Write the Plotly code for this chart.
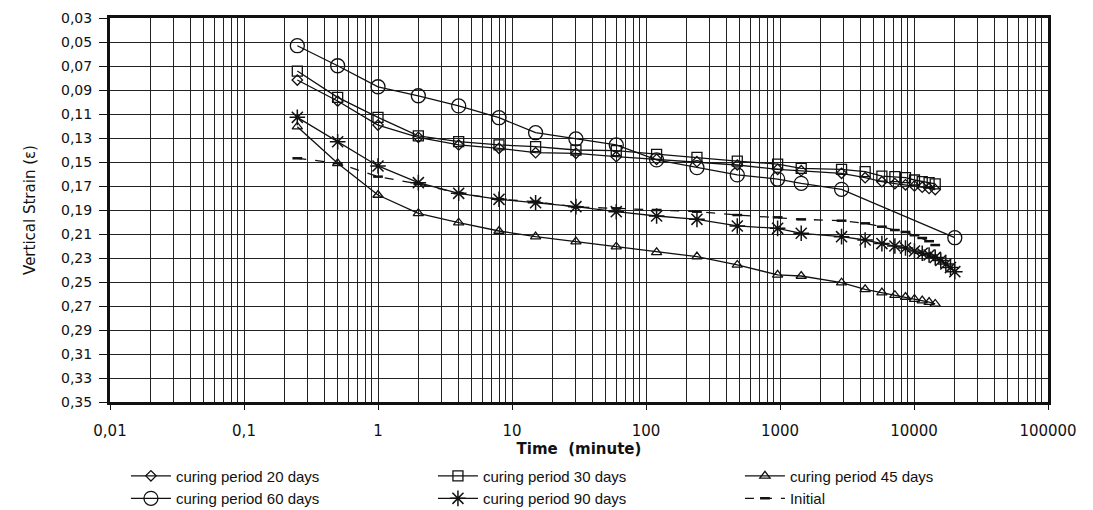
import plotly.graph_objects as go

# Time (minute)
t_common = [0.25, 0.5, 1, 2, 4, 8, 15, 30, 60, 120, 240, 480, 960, 1440, 2880,
            4320, 5760, 7200, 8640, 10080, 11520, 12960, 14400]
t_60 = [0.25, 0.5, 1, 2, 4, 8, 15, 30, 60, 120, 240, 480, 960, 1440, 2880, 20160]
t_90 = t_common + [15840, 17280, 18720, 20160]

cp20 = [0.0817, 0.0992, 0.1192, 0.1294, 0.1358, 0.1386, 0.1422, 0.1428, 0.1456, 0.1478,
        0.1497, 0.1525, 0.1561, 0.1572, 0.1594, 0.1631, 0.1664, 0.1680, 0.1690, 0.1700,
        0.1710, 0.1720, 0.1730]
cp30 = [0.0742, 0.0961, 0.1128, 0.1283, 0.1331, 0.1358, 0.1372, 0.1400, 0.1406, 0.1436,
        0.1461, 0.1492, 0.1517, 0.1553, 0.1561, 0.1581, 0.1617, 0.1622, 0.1631, 0.1650,
        0.1664, 0.1672, 0.1683]
cp45 = [0.1206, 0.1511, 0.1775, 0.1928, 0.2006, 0.2075, 0.2122, 0.2164, 0.2206, 0.2253,
        0.2289, 0.2358, 0.2440, 0.2450, 0.2506, 0.2561, 0.2589, 0.2610, 0.2625, 0.2642,
        0.2655, 0.2668, 0.2683]
cp60 = [0.0531, 0.0698, 0.0873, 0.0948, 0.1033, 0.1131, 0.1256, 0.1308, 0.1358, 0.1483,
        0.1547, 0.1608, 0.1642, 0.1678, 0.1728, 0.2131]
cp90 = [0.1128, 0.1331, 0.1533, 0.1672, 0.1761, 0.1811, 0.1839, 0.1872, 0.1914, 0.1950,
        0.1978, 0.2033, 0.2053, 0.2094, 0.2122, 0.2150, 0.2180, 0.2200, 0.2217, 0.2242,
        0.2260, 0.2275, 0.2295, 0.2320, 0.2350, 0.2380, 0.2414]
initial = [0.1469, 0.1510, 0.1622, 0.1683, 0.1760, 0.1810, 0.1831, 0.1875, 0.1886, 0.1900,
           0.1914, 0.1942, 0.1961, 0.1978, 0.1989, 0.2011, 0.2039, 0.2067, 0.2083, 0.2110,
           0.2133, 0.2160, 0.2192]

x_tickvals = [0.01, 0.1, 1, 10, 100, 1000, 10000, 100000]
x_ticktext = ["0,01", "0,1", "1", "10", "100", "1000", "10000", "100000"]
y_tickvals = [0.03, 0.05, 0.07, 0.09, 0.11, 0.13, 0.15, 0.17, 0.19, 0.21, 0.23, 0.25,
              0.27, 0.29, 0.31, 0.33, 0.35]
y_ticktext = ["0,03", "0,05", "0,07", "0,09", "0,11", "0,13", "0,15", "0,17", "0,19",
              "0,21", "0,23", "0,25", "0,27", "0,29", "0,31", "0,33", "0,35"]

FONT = "Liberation Sans, Arial, sans-serif"
WIDE = "DejaVu Sans, Verdana, sans-serif"
LC = "#111111"

fig = go.Figure()

def add(name, x, y, symbol, size, dash="solid", mlw=1.3):
    fig.add_trace(go.Scatter(
        x=x, y=y, name=name, mode="lines+markers",
        line=dict(color=LC, width=1.3, dash=dash),
        marker=dict(symbol=symbol, size=size, color=LC,
                    line=dict(color=LC, width=mlw)),
    ))

add("curing period 20 days", t_common, cp20, "diamond-open", 8)
add("curing period 30 days", t_common, cp30, "square-open", 10)
add("curing period 45 days", t_common, cp45, "triangle-up-open", 9)
add("curing period 60 days", t_60, cp60, "circle-open", 14)
add("curing period 90 days", t_90, cp90, "asterisk-open", 13, mlw=1.5)
add("Initial", t_common, initial, "line-ew-open", 7, dash="dash", mlw=2.5)

fig.update_layout(
    width=1093, height=510,
    margin=dict(l=110, r=45, t=18, b=108, autoexpand=False),
    paper_bgcolor="white", plot_bgcolor="white",
    font=dict(family=FONT, color="#111111", size=14),
    showlegend=True,
    legend=dict(orientation="h", x=0.017, xanchor="left", y=-0.15, yanchor="top",
                entrywidth=252, entrywidthmode="pixels",
                font=dict(size=15, family=FONT), itemwidth=40,
                bgcolor="rgba(0,0,0,0)", tracegroupgap=0),
)

fig.update_xaxes(
    type="log", range=[-2, 5],
    tickvals=x_tickvals, ticktext=x_ticktext,
    tickfont=dict(size=15, family=WIDE),
    ticklabelstandoff=8,
    showgrid=True, gridcolor="#222222", gridwidth=1,
    minor=dict(showgrid=True, gridcolor="#222222", gridwidth=1, dtick="D1",
               ticks=""),
    showline=True, linecolor="#111111", linewidth=3, mirror=True,
    ticks="outside", ticklen=5, tickcolor="#111111",
    title=dict(text="Time  (minute)", font=dict(size=15, family=WIDE, weight="bold"),
               standoff=3),
    zeroline=False,
)
fig.update_yaxes(
    range=[0.35, 0.03],
    tickvals=y_tickvals, ticktext=y_ticktext,
    tickfont=dict(size=14, family=WIDE),
    ticklabelstandoff=4,
    showgrid=True, gridcolor="#222222", gridwidth=1,
    showline=True, linecolor="#111111", linewidth=3, mirror=True,
    ticks="outside", ticklen=8, tickcolor="#111111",
    title=dict(text="Vertical Strain (ε)", font=dict(size=15, family=WIDE),
               standoff=22),
    zeroline=False,
)

fig.write_html("out.html")
